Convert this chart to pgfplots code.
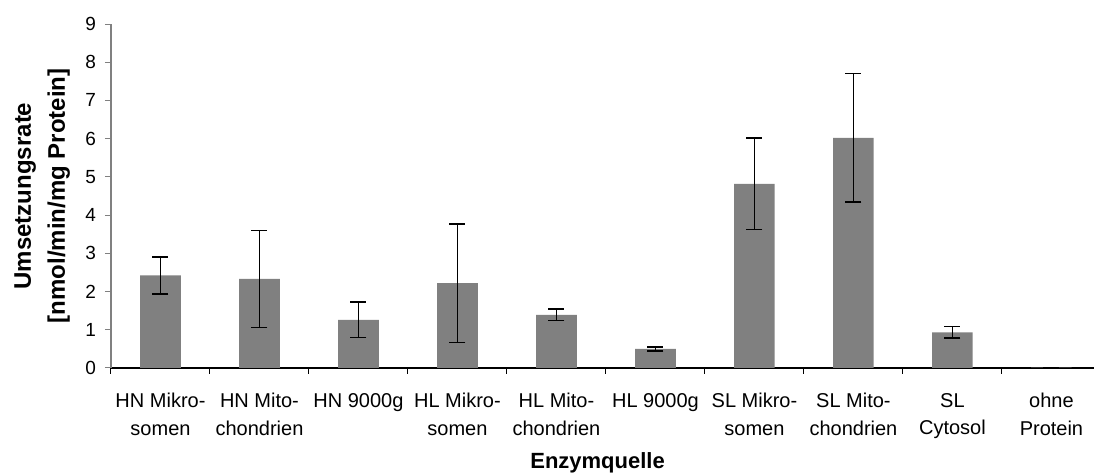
\documentclass[border=0pt]{standalone}
\usepackage{pgfplots}
\pgfplotsset{compat=1.18}
\usepackage{fontspec}
\setmainfont{Liberation Sans}
\usetikzlibrary{calc}

\pgfplotstableread{
x y err
0 2.42 0.48
1 2.33 1.27
2 1.26 0.46
3 2.22 1.55
4 1.39 0.15
5 0.50 0.05
6 4.82 1.20
7 6.02 1.68
8 0.93 0.15
9 0.01 0.00
}\datatable

\begin{document}
\begin{tikzpicture}
\begin{axis}[
  scale only axis,
  width=491.5pt, height=172pt,
  xmin=-0.5, xmax=9.43,
  ymin=0, ymax=9,
  ytick={0,...,9},
  xtick={-0.5,0.5,...,8.5},
  xticklabels={},
  extra x ticks={0,...,9},
  extra x tick style={major tick length=0pt,
    tick label style={font=\fontsize{10}{13.8}\selectfont, align=center, anchor=north, yshift=-9pt}},
  extra x tick labels={HN Mikro-\\somen, HN Mito-\\chondrien, HN 9000g\\\strut, HL Mikro-\\somen,
    HL Mito-\\chondrien, HL 9000g\\\strut, SL Mikro-\\somen, SL Mito-\\chondrien,
    SL\\Cytosol, ohne\\Protein},
  axis x line*=bottom, axis y line*=left,
  x axis line style={-, black, line width=0.6pt},
  y axis line style={-, gray, line width=0.6pt},
  tick align=outside,
  major tick length=3pt,
  xtick style={black, line width=0.5pt},
  ytick style={gray, line width=0.5pt},
  yticklabel style={font=\fontsize{9.5}{11}\selectfont, xshift=-1pt},
  /pgf/number format/assume math mode=true,
  ylabel={Umsetzungsrate\\{}[nmol/min/mg Protein]},
  ylabel style={font=\bfseries\fontsize{12}{17}\selectfont, align=center,
    at={(axis description cs:-0.0346,0.5)}, anchor=south, rotate=0},
  xlabel={Enzymquelle},
  xlabel style={font=\bfseries\fontsize{11}{13}\selectfont,
    at={(axis description cs:0.495,-0.291)}, anchor=base},
  clip=false,
]
\addplot[ybar, bar width=0.41, fill=gray, draw=none,
  error bars/.cd, y dir=both, y explicit,
  error bar style={black, line width=0.75pt},
  error mark options={black, line width=0.75pt, mark size=4pt, rotate=90}]
  table[x=x, y=y, y error=err] {\datatable};
\end{axis}
\pgfresetboundingbox
\path[use as bounding box] ($(current axis.south west)+(-55.5pt,-52.5pt)$) rectangle ($(current axis.north east)+(0pt,12pt)$);
\end{tikzpicture}
\end{document}
